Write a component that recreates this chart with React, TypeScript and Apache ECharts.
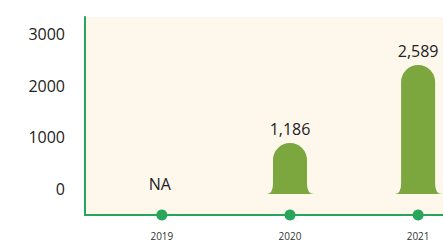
import React, { useEffect, useRef } from "react";
import * as echarts from "echarts";

const years = [2019, 2020, 2021];
const values: (number | null)[] = [null, 1186, 2589];
const yTickLabels = [0, 1000, 2000, 3000];
const FONT = "Open Sans";

export default function App() {
  const ref = useRef<HTMLDivElement>(null);
  useEffect(() => {
    document.body.style.margin = "0";
    const chart = echarts.init(ref.current!, null, { renderer: "svg" });
    const green = "#27a55b";
    const barColor = "#7ca73f";
    const option: any = {
      animation: false,
      grid: {
        left: 85,
        top: 17,
        bottom: 27,
        right: 0,
        show: true,
        backgroundColor: "#fdf7ec",
        borderWidth: 0,
      },
      xAxis: {
        type: "value",
        min: 2018.4,
        max: 2021.6,
        axisLine: { show: true, onZero: false, lineStyle: { color: green, width: 2 } },
        axisTick: { show: false },
        splitLine: { show: false },
        axisLabel: {
          customValues: years,
          fontSize: 10,
          lineHeight: 10,
          color: "#333",
          margin: 16,
          fontFamily: FONT,
          formatter: (v: number) => String(v),
        },
      },
      yAxis: [
        {
          type: "value",
          min: -500,
          max: 3330,
          interval: 500,
          axisLine: { show: true, onZero: false, lineStyle: { color: green, width: 2 } },
          axisTick: { show: false },
          splitLine: { show: false },
          axisLabel: {
            fontSize: 16,
            color: "#222",
            margin: 20,
            fontFamily: FONT,
            formatter: (v: number) => (yTickLabels.includes(v) ? String(v) : ""),
          },
        },
        { type: "value", min: -108, max: 3453, show: false },
      ],
      series: [
        {
          type: "custom",
          yAxisIndex: 1,
          clip: false,
          data: years.map((y, i) => [y, values[i] ?? 0, i]),
          renderItem: (params: any, api: any) => {
            const i = api.value(2);
            const raw = values[i];
            const x = api.value(0);
            const [cx, y0] = api.coord([x, 0]);
            if (raw == null) {
              return {
                type: "text",
                style: {
                  text: "NA",
                  x: cx - 2,
                  y: y0 - 25,
                  align: "center",
                  verticalAlign: "middle",
                  fontSize: 16,
                  fontFamily: FONT,
                  fill: "#222",
                },
              };
            }
            const [, yt] = api.coord([x, raw]);
            const yb = y0 - 15;
            const W = 34;
            const F = 7;
            const R = W / 2;
            const Hf = 10;
            const l = cx - W / 2;
            const r = cx + W / 2;
            const d =
              `M ${l - F} ${yb} Q ${l} ${yb} ${l} ${yb - Hf} L ${l} ${yt + R} ` +
              `A ${R} ${R} 0 0 1 ${r} ${yt + R} L ${r} ${yb - Hf} Q ${r} ${yb} ${r + F} ${yb} Z`;
            return {
              type: "group",
              children: [
                { type: "path", shape: { pathData: d }, style: { fill: barColor } },
                {
                  type: "text",
                  style: {
                    text: raw.toLocaleString("en-US"),
                    x: cx,
                    y: yt - 14,
                    align: "center",
                    verticalAlign: "middle",
                    fontSize: 16,
                    fontFamily: FONT,
                    fill: "#222",
                  },
                },
              ],
            };
          },
        },
        {
          type: "scatter",
          yAxisIndex: 0,
          clip: false,
          symbolSize: 11,
          itemStyle: { color: green, opacity: 1 },
          data: years.map((y) => [y, -500]),
        },
      ],
    };
    chart.setOption(option);
    return () => chart.dispose();
  }, []);
  return (
    <div style={{ width: 443, height: 242, overflow: "hidden" }}>
      <div ref={ref} style={{ width: 495, height: 242 }} />
    </div>
  );
}
